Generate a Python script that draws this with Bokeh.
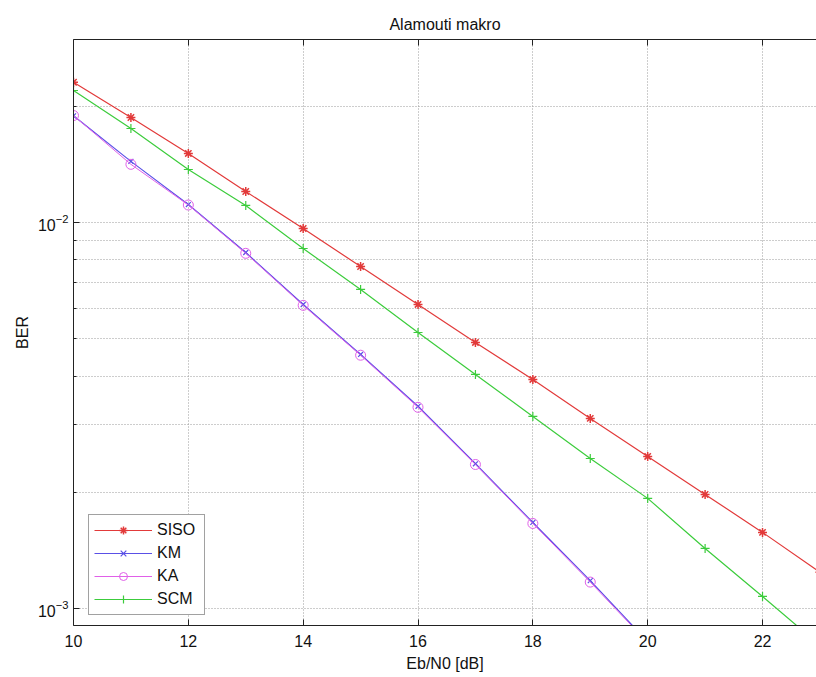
from bokeh.plotting import figure
from bokeh.models import (Range1d, LinearAxis, FixedTicker, Legend, LegendItem,
                          CustomJSTickFormatter)
from bokeh.embed import file_html
from bokeh.resources import INLINE

# ---- data ----
ebn0_long = [10, 11, 12, 13, 14, 15, 16, 17, 18, 19, 20, 21, 22, 23]
ebn0_short = [10, 11, 12, 13, 14, 15, 16, 17, 18, 19, 20]
siso = [0.02309, 0.01871, 0.01510, 0.01203, 0.009648, 0.007691, 0.006133,
        0.004888, 0.003920, 0.003107, 0.002476, 0.001974, 0.001574, 0.001240]
km = [0.01890, 0.01440, 0.01113, 0.00836, 0.00613, 0.00455, 0.00334,
      0.00237, 0.00167, 0.00118, 0.00082]
ka = [0.01893, 0.01415, 0.01110, 0.00832, 0.00610, 0.00453, 0.00332,
      0.00236, 0.00166, 0.00117, 0.000815]
scm = [0.02198, 0.01752, 0.01372, 0.01107, 0.008564, 0.006707, 0.005188,
       0.004039, 0.003144, 0.002446, 0.001928, 0.001430, 0.001074, 0.000802]
x_ticks = [10, 12, 14, 16, 18, 20, 22]
y_major = [0.001, 0.01]
y_minor = [0.002, 0.003, 0.004, 0.005, 0.006, 0.007, 0.008, 0.009, 0.02, 0.03]

FONT = "Liberation Sans"
FS = "16px"

p = figure(width=816, height=677, y_axis_type="log",
           x_range=Range1d(10, 22.94), y_range=Range1d(0.000903, 0.0298),
           output_backend="svg", toolbar_location=None,
           min_border_left=73, min_border_right=0, min_border_top=39,
           min_border_bottom=52)
p.outline_line_color = None

p.title.text = "Alamouti makro"
p.title.text_font = FONT
p.title.text_font_size = FS
p.title.text_font_style = "normal"
p.title.text_color = "#111111"
p.title.align = "center"
p.title.standoff = 14

# axes
xt = FixedTicker(ticks=x_ticks)
yt = FixedTicker(ticks=y_major, minor_ticks=y_minor)
p.xaxis.ticker = xt
p.yaxis.ticker = yt
p.xaxis.axis_label = "Eb/N0 [dB]"
p.yaxis.axis_label = "BER"
for ax in (p.xaxis[0], p.yaxis[0]):
    ax.axis_line_color = "#222222"
    ax.major_tick_in = 6
    ax.major_tick_out = 0
    ax.minor_tick_in = 3
    ax.minor_tick_out = 0
    ax.major_tick_line_color = "#222222"
    ax.minor_tick_line_color = "#222222"
    ax.major_label_text_font = FONT
    ax.major_label_text_font_size = FS
    ax.major_label_text_color = "#111111"
    ax.axis_label_text_font = FONT
    ax.axis_label_text_font_size = FS
    ax.axis_label_text_font_style = "normal"
    ax.axis_label_text_color = "#111111"
p.xaxis.minor_tick_line_color = None
p.xaxis.major_label_standoff = 9
p.xaxis.axis_label_standoff = 5
p.yaxis.major_label_standoff = 5
p.yaxis.axis_label_standoff = 4

top = LinearAxis(ticker=xt, formatter=CustomJSTickFormatter(code="return ''"),
                 major_tick_in=6, major_tick_out=0, minor_tick_line_color=None,
                 axis_line_color="#222222", major_tick_line_color="#222222",
                 major_label_standoff=0)
p.add_layout(top, "above")

# grid
p.xgrid.ticker = xt
p.ygrid.ticker = yt
p.xgrid.grid_line_color = "#9a9a9a"
p.xgrid.grid_line_dash = "1 2"
p.ygrid.grid_line_color = "#9a9a9a"
p.ygrid.grid_line_dash = "1 2"
p.ygrid.minor_grid_line_color = "#9a9a9a"
p.ygrid.minor_grid_line_dash = "1 2"

RED = "#e23a3a"
BLUE = "#5a50e6"
MAG = "#e060e8"
GREEN = "#3ccc3c"

l1 = p.line(ebn0_long, siso, line_color=RED, line_width=1.2)
s1 = p.scatter(ebn0_long, siso, marker="asterisk", size=9, line_color=RED, line_width=1.5)
l2 = p.line(ebn0_short, km, line_color=BLUE, line_width=1.2)
s2 = p.scatter(ebn0_short, km, marker="x", size=7, line_color=BLUE, line_width=1.2)
l3 = p.line(ebn0_short, ka, line_color=MAG, line_width=1.0)
s3 = p.scatter(ebn0_short, ka, marker="circle", size=10, fill_color=None, line_color=MAG, line_width=1.0)
l4 = p.line(ebn0_long, scm, line_color=GREEN, line_width=1.2)
s4 = p.scatter(ebn0_long, scm, marker="cross", size=9, line_color=GREEN, line_width=1.2)

legend = Legend(items=[
    LegendItem(label="SISO", renderers=[l1, s1]),
    LegendItem(label="KM", renderers=[l2, s2]),
    LegendItem(label="KA", renderers=[l3, s3]),
    LegendItem(label="SCM", renderers=[l4, s4]),
], location=(15, 10))
legend.label_text_font = FONT
legend.label_text_font_size = FS
legend.label_text_color = "#111111"
legend.border_line_color = "#444444"
legend.border_line_width = 1
legend.background_fill_color = "white"
legend.background_fill_alpha = 1.0
legend.padding = 5
legend.margin = 0
legend.spacing = 3
legend.glyph_height = 20
legend.label_height = 20
legend.glyph_width = 58
legend.label_standoff = 5
legend.label_width = 42
p.add_layout(legend, "center")

open("out.html", "w").write(file_html(p, INLINE))
